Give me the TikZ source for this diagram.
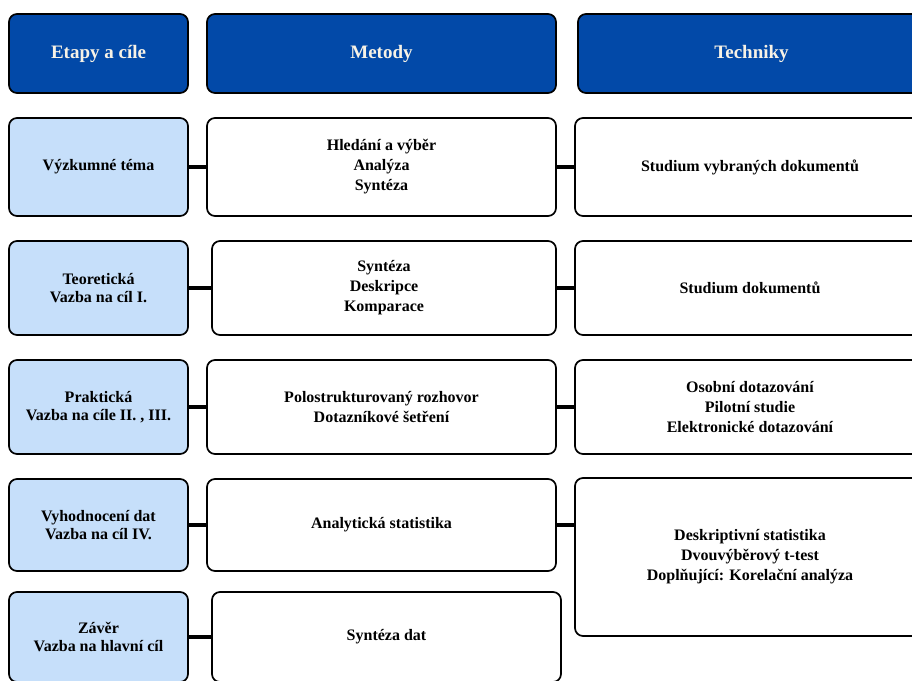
\documentclass[tikz,border=0pt]{standalone}
\usepackage{fontspec}
\setmainfont{Liberation Serif}
\definecolor{hdrblue}{HTML}{0249A8}
\definecolor{ltblue}{HTML}{C6DFFA}
\definecolor{cream}{HTML}{F7F2E6}
\tikzset{
  base/.style={draw=black, line width=1.7pt, rounded corners=8pt, align=center,
    font=\bfseries\fontsize{16}{20}\selectfont, inner sep=0pt},
  hdr/.style={base, fill=hdrblue, text=cream, font=\bfseries\fontsize{19}{22}\selectfont},
  leftbox/.style={base, fill=ltblue, font=\bfseries\fontsize{16}{18.5}\selectfont},
  wbox/.style={base, fill=white},
  conn/.style={line width=3.5pt, black}
}
\begin{document}
\begin{tikzpicture}[x=1pt,y=-1pt]
\clip (0,0) rectangle (912,680);
\fill[white] (0,0) rectangle (912,680);
% headers
\node[hdr, minimum width=179pt, minimum height=79pt] (h1) at (98.5,53.5) {Etapy a cíle};
\node[hdr, minimum width=349pt, minimum height=79pt] (h2) at (381.5,53.5) {Metody};
\node[hdr, minimum width=347pt, minimum height=79pt] (h3) at (751.5,53.5) {Techniky};
% row 1
\node[leftbox, minimum width=179pt, minimum height=98pt] (l1) at (98.5,167) {Výzkumné téma};
\node[wbox, minimum width=349pt, minimum height=98pt] (m1) at (381.5,167) {Hledání a výběr\\Analýza\\Syntéza};
\node[wbox, minimum width=350pt, minimum height=98pt] (r1) at (750,167) {Studium vybraných dokumentů};
% row 2
\node[leftbox, minimum width=179pt, minimum height=94pt] (l2) at (98.5,288) {Teoretická\\Vazba na cíl I.};
\node[wbox, minimum width=344pt, minimum height=94pt] (m2) at (384,288) {Syntéza\\Deskripce\\Komparace};
\node[wbox, minimum width=350pt, minimum height=94pt] (r2) at (750,288) {Studium dokumentů};
% row 3
\node[leftbox, minimum width=179pt, minimum height=94pt] (l3) at (98.5,407) {Praktická\\Vazba na cíle II. , III.};
\node[wbox, minimum width=349pt, minimum height=94pt] (m3) at (381.5,407) {Polostrukturovaný rozhovor\\Dotazníkové šetření};
\node[wbox, minimum width=350pt, minimum height=94pt] (r3) at (750,407) {Osobní dotazování\\Pilotní studie\\Elektronické dotazování};
% row 4
\node[leftbox, minimum width=179pt, minimum height=92pt] (l4) at (98.5,525) {Vyhodnocení dat\\Vazba na cíl IV.};
\node[wbox, minimum width=349pt, minimum height=92pt] (m4) at (381.5,525) {Analytická statistika};
\node[wbox, minimum width=350pt, minimum height=158pt] (r4) at (750,557) {Deskriptivní statistika\\Dvouvýběrový t-test\\Doplňující: Korelační analýza};
% row 5
\node[leftbox, minimum width=179pt, minimum height=90pt] (l5) at (98.5,637) {Závěr\\Vazba na hlavní cíl};
\node[wbox, minimum width=349pt, minimum height=90pt] (m5) at (386.5,637) {Syntéza dat};
% connectors
\draw[conn] (l1.east) -- (l1.east -| m1.west);
\draw[conn] (m1.east) -- (m1.east -| r1.west);
\draw[conn] (l2.east) -- (l2.east -| m2.west);
\draw[conn] (m2.east) -- (m2.east -| r2.west);
\draw[conn] (l3.east) -- (l3.east -| m3.west);
\draw[conn] (m3.east) -- (m3.east -| r3.west);
\draw[conn] (l4.east) -- (l4.east -| m4.west);
\draw[conn] (m4.east) -- (m4.east -| r4.west);
\draw[conn] (l5.east) -- (l5.east -| m5.west);
\end{tikzpicture}
\end{document}
